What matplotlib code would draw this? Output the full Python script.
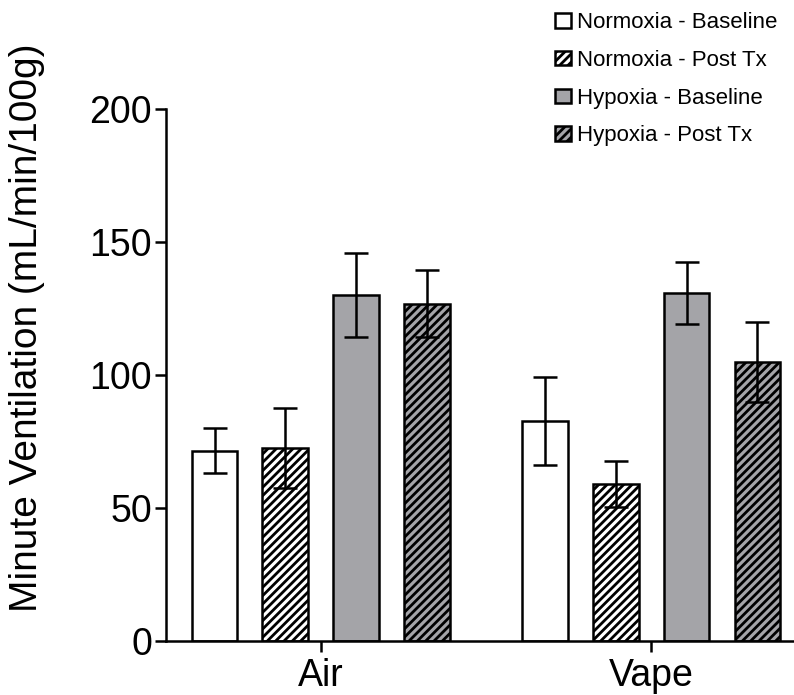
import matplotlib
matplotlib.use("Agg")
import matplotlib.pyplot as plt
import numpy as np

plt.rcParams['font.family'] = ['Liberation Sans', 'DejaVu Sans']
plt.rcParams['hatch.linewidth'] = 2.0

groups = ["Air", "Vape"]
series = ["Normoxia - Baseline", "Normoxia - Post Tx", "Hypoxia - Baseline", "Hypoxia - Post Tx"]
means = {
    "Normoxia - Baseline": [71.5, 82.7],
    "Normoxia - Post Tx": [72.5, 59.0],
    "Hypoxia - Baseline": [130.2, 130.9],
    "Hypoxia - Post Tx": [126.8, 104.9],
}
errs = {
    "Normoxia - Baseline": [8.5, 16.7],
    "Normoxia - Post Tx": [15.0, 8.7],
    "Hypoxia - Baseline": [15.8, 11.7],
    "Hypoxia - Post Tx": [12.6, 15.0],
}
yticks = [0, 50, 100, 150, 200]

GRAY = "#a4a4a8"
styles = {
    "Normoxia - Baseline": dict(color="white", hatch=None),
    "Normoxia - Post Tx": dict(color="white", hatch="////"),
    "Hypoxia - Baseline": dict(color=GRAY, hatch=None),
    "Hypoxia - Post Tx": dict(color=GRAY, hatch="////"),
}

fig = plt.figure(figsize=(7.94, 6.95), dpi=100)
ax = fig.add_axes([0.209, 0.0777, 0.791, 0.7655])

x = np.arange(len(groups))
width = 0.138
offsets = [-0.321, -0.107, 0.107, 0.321]
lw = 1.8
for s, off in zip(series, offsets):
    st = styles[s]
    ax.bar(x + off, means[s], width, color=st["color"], hatch=st["hatch"],
           edgecolor="black", linewidth=lw, label=s, zorder=2)
    ax.errorbar(x + off, means[s], yerr=errs[s], fmt="none", ecolor="black",
                elinewidth=lw, capsize=8.3, capthick=lw, zorder=3)

ax.set_xlim(-0.468, 1.432)
ax.set_ylim(0, 200)
ax.set_yticks(yticks)
ax.set_xticks(x)
ax.set_xticklabels(groups)
ax.tick_params(axis="both", labelsize=27, width=lw, length=8, color="black")
ax.tick_params(axis="y", pad=2)
ax.tick_params(axis="x", pad=4)
for sp in ["top", "right"]:
    ax.spines[sp].set_visible(False)
for sp in ["left", "bottom"]:
    ax.spines[sp].set_linewidth(lw)

ax.set_ylabel("Minute Ventilation (mL/min/100g)", fontsize=28)
ax.yaxis.set_label_coords(-0.193, 0.588)

fig.legend(loc="upper left", bbox_to_anchor=(0.688, 0.995), frameon=False,
           fontsize=16, handlelength=0.7, handleheight=0.6, handletextpad=0.3,
           labelspacing=0.75, borderaxespad=0)

fig.savefig("out.png", dpi=100)
